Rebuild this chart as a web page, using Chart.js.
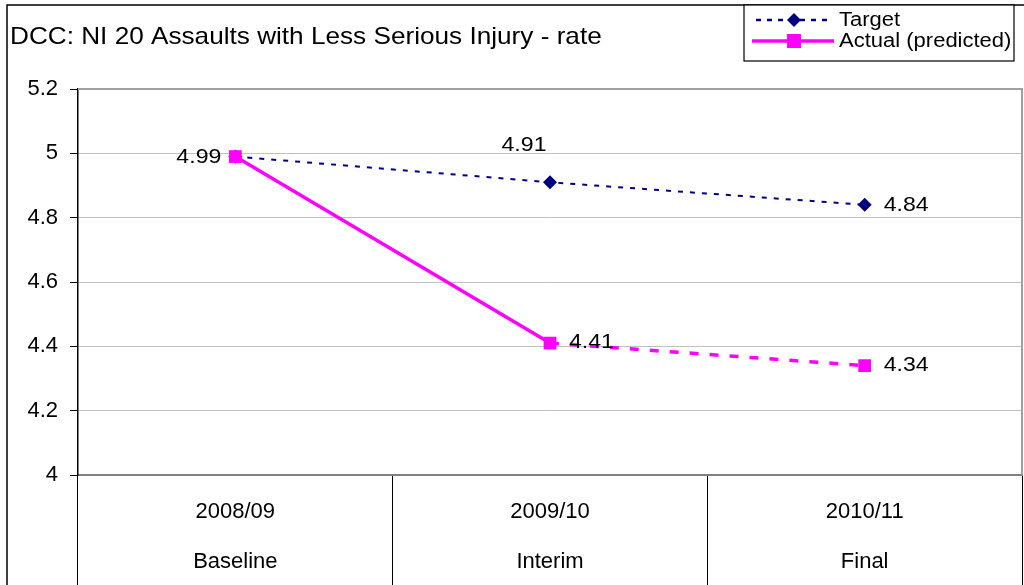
<!DOCTYPE html>
<html>
<head>
<meta charset="utf-8">
<script src="https://cdn.jsdelivr.net/npm/chart.js@4.4.1/dist/chart.umd.min.js"></script>
<style>
html,body{margin:0;padding:0;background:#fff;overflow:hidden;}
#wrap{width:1024px;height:585px;position:relative;overflow:hidden;}
canvas{display:block;}
</style>
</head>
<body>
<div id="wrap"><canvas id="c" width="1024" height="585"></canvas></div>
<script>
const chartTitle = 'DCC: NI 20 Assaults with Less Serious Injury - rate';
const years = ['2008/09', '2009/10', '2010/11'];
const stages = ['Baseline', 'Interim', 'Final'];
const targetLabel = 'Target';
const actualLabel = 'Actual (predicted)';
const targetValues = [4.99, 4.91, 4.84];
const actualValues = [4.99, 4.41, 4.34];
const yMin = 4, yMax = 5.2, yStep = 0.2;

// label placement per point: [dx, dy, align] (null = hidden)
const targetLabelPos = [null, [-26, -37, 'center'], [19, 0, 'left']];
const actualLabelPos = [[-14, 1, 'right'], [19, -1, 'left'], [19, 0, 'left']];

const FONT = '"Liberation Sans", Arial, sans-serif';
const NAVY = '#000080';
const MAG = '#FF00FF';

function stretchText(c, text, x, y, size, sx, align) {
  c.save();
  c.font = size + 'px ' + FONT;
  c.textAlign = align;
  c.textBaseline = 'middle';
  c.translate(x, y);
  c.scale(sx, 1);
  c.fillText(text, 0, 0);
  c.restore();
}

const frame = {
  id: 'frame',
  beforeDraw(chart) {
    const c = chart.ctx;
    c.save();
    c.fillStyle = '#fff';
    c.fillRect(0, 0, chart.width, chart.height);
    c.strokeStyle = '#000';
    c.lineWidth = 1.5;
    c.beginPath();
    c.moveTo(7, 585); c.lineTo(7, 5); c.lineTo(1024, 5);
    c.stroke();
    c.restore();
  },
  afterDatasetsDraw(chart) {
    const c = chart.ctx, a = chart.chartArea;
    c.save();
    c.strokeStyle = '#a0a0a0';
    c.lineWidth = 2;
    c.beginPath();
    c.moveTo(a.left, a.top); c.lineTo(a.right, a.top); c.lineTo(a.right, a.bottom);
    c.stroke();
    c.fillStyle = '#000';
    stretchText(c, chartTitle, 10, 37, 24, 1.09, 'left');
    const sets = [[1, targetLabelPos], [0, actualLabelPos]];
    sets.forEach(([di, pos]) => {
      const meta = chart.getDatasetMeta(di);
      const vals = chart.data.datasets[di].data;
      meta.data.forEach((pt, i) => {
        const p = pos[i];
        if (!p) return;
        stretchText(c, String(vals[i]), pt.x + p[0], pt.y + p[1], 21, 1.1, p[2]);
      });
    });
    // legend
    c.fillStyle = '#fff';
    c.fillRect(744, 5, 270, 56);
    c.strokeStyle = '#000';
    c.lineWidth = 1.2;
    c.strokeRect(744, 5, 270, 56);
    const tds = chart.data.datasets[1], ads = chart.data.datasets[0];
    c.strokeStyle = NAVY; c.lineWidth = 2.5; c.setLineDash([5, 6]);
    c.beginPath(); c.moveTo(756, 20); c.lineTo(832, 20); c.stroke();
    c.setLineDash([]);
    c.fillStyle = NAVY;
    c.beginPath(); c.moveTo(794, 13); c.lineTo(801, 20); c.lineTo(794, 27); c.lineTo(787, 20); c.closePath(); c.fill();
    c.strokeStyle = MAG; c.lineWidth = 3.5;
    c.beginPath(); c.moveTo(752, 41); c.lineTo(834, 41); c.stroke();
    c.fillStyle = MAG; c.fillRect(787, 34, 14, 14);
    c.fillStyle = '#000';
    stretchText(c, tds.label, 839, 20, 20, 1.1, 'left');
    stretchText(c, ads.label, 839, 41, 20, 1.1, 'left');
    c.restore();
  }
};

new Chart(document.getElementById('c'), {
  type: 'line',
  data: {
    labels: years.map((y, i) => [y, stages[i]]),
    datasets: [
      {
        label: actualLabel,
        data: actualValues,
        borderColor: MAG,
        backgroundColor: MAG,
        borderWidth: 3.5,
        pointStyle: 'rect',
        pointRadius: 9,
        pointBorderWidth: 0,
        tension: 0,
        segment: { borderDash: ctx => ctx.p0DataIndex >= 1 ? [9, 11] : undefined }
      },
      {
        label: targetLabel,
        data: targetValues,
        borderColor: NAVY,
        backgroundColor: NAVY,
        borderWidth: 2,
        borderDash: [5, 7],
        pointStyle: 'rectRot',
        pointRadius: 7,
        pointBorderWidth: 0,
        tension: 0
      }
    ]
  },
  options: {
    responsive: false,
    animation: false,
    devicePixelRatio: 1,
    layout: { autoPadding: false, padding: { left: 0, right: 2, top: 89, bottom: 0 } },
    plugins: { legend: { display: false }, title: { display: false }, tooltip: { enabled: false } },
    scales: {
      x: {
        offset: true,
        afterFit: s => { s.height = 110; s.paddingLeft = 0; s.paddingRight = 0; },
        grid: { offset: true, drawOnChartArea: false, drawTicks: true, tickLength: 110, color: '#000', lineWidth: 1 },
        border: { display: true, color: '#808080', width: 2 },
        ticks: {
          color: '#000',
          font: { family: FONT, size: 22, lineHeight: '50px' },
          padding: -98,
          maxRotation: 0,
          autoSkip: false
        }
      },
      y: {
        min: yMin, max: yMax,
        afterFit: s => { s.width = 78; s.paddingTop = 0; s.paddingBottom = 0; },
        afterBuildTicks: s => {
          const t = [];
          for (let v = yMin; v <= yMax + 1e-9; v += yStep) t.push({ value: Math.round(v * 10) / 10 });
          s.ticks = t;
        },
        grid: { color: '#c0c0c0', lineWidth: 1, drawTicks: true, tickLength: 8, tickColor: '#000' },
        border: { display: true, color: '#000', width: 1.5 },
        ticks: {
          color: '#000',
          font: { family: FONT, size: 22 },
          padding: 12,
          callback: v => String(Math.round(v * 10) / 10)
        }
      }
    }
  },
  plugins: [frame]
});
</script>
</body>
</html>
